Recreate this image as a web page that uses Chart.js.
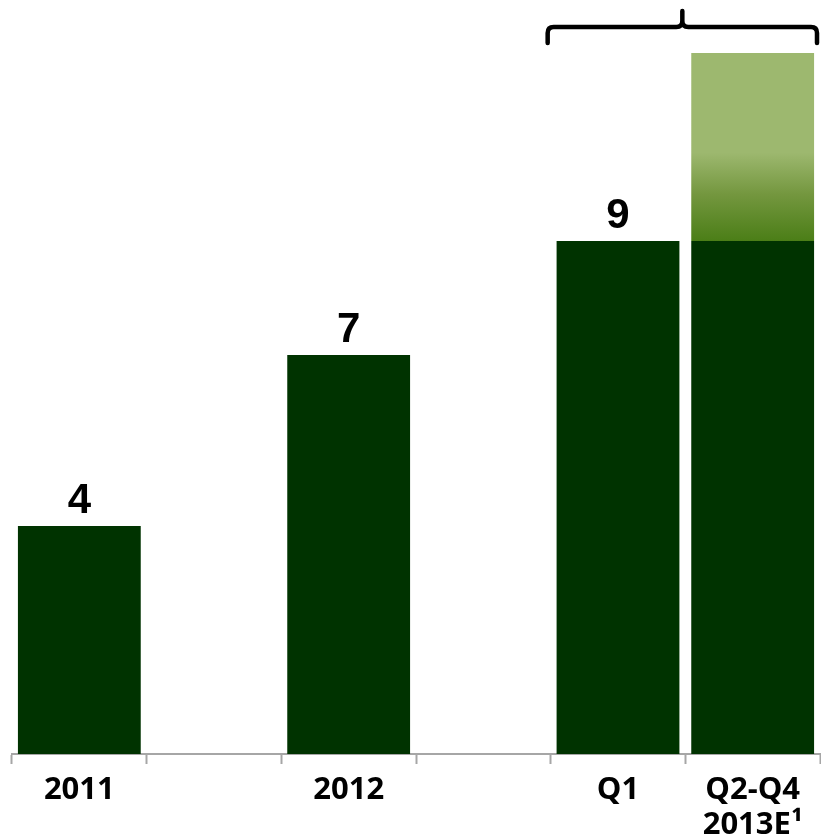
<!DOCTYPE html>
<html>
<head>
<meta charset="utf-8">
<script src="https://cdn.jsdelivr.net/npm/chart.js@4"></script>
<style>
html,body{margin:0;padding:0;background:#fff;}
#wrap{width:821px;height:839px;}
</style>
</head>
<body>
<div id="wrap"><canvas id="c" width="821" height="839"></canvas></div>
<script>
const categories = ['2011', '', '2012', '', 'Q1', ['Q2-Q4', '2013E\u00B9']];
const actualValues = [4, null, 7, null, 9, 9];
const estimateValues = [null, null, null, null, null, 3.3];
const valueLabels = ['4', '', '7', '', '9', ''];

const darkGreen = '#003300';
const lightGreen = '#9DB86F';
const midGreen = '#4B7E17';

const valueLabelPlugin = {
  id: 'valueLabels',
  afterDatasetsDraw(chart) {
    const ctx = chart.ctx;
    const meta = chart.getDatasetMeta(0);
    ctx.save();
    ctx.fillStyle = '#000';
    ctx.font = 'bold 42px "Liberation Sans", Arial, sans-serif';
    ctx.textAlign = 'center';
    ctx.textBaseline = 'alphabetic';
    meta.data.forEach((bar, i) => {
      if (!valueLabels[i]) return;
      ctx.fillText(valueLabels[i], bar.x, bar.y - 13);
    });
    ctx.restore();
  }
};

const bracePlugin = {
  id: 'brace',
  afterDraw(chart) {
    const ctx = chart.ctx;
    const x = chart.scales.x;
    const left = x.getPixelForValue(4) - x.width / categories.length / 2 - 3;
    const right = x.getPixelForValue(5) + x.width / categories.length / 2 - 3;
    const mid = (left + right) / 2;
    const yLine = 27;
    const yEnd = 43;
    const yTip = 11;
    const r = 6;
    ctx.save();
    ctx.strokeStyle = '#000';
    ctx.lineWidth = 4.5;
    ctx.lineCap = 'round';
    ctx.lineJoin = 'round';
    ctx.beginPath();
    ctx.moveTo(left, yEnd);
    ctx.lineTo(left, yLine + r);
    ctx.quadraticCurveTo(left, yLine, left + r, yLine);
    ctx.lineTo(mid - r, yLine);
    ctx.quadraticCurveTo(mid, yLine, mid, yLine - r);
    ctx.lineTo(mid, yTip);
    ctx.moveTo(mid, yLine - r);
    ctx.quadraticCurveTo(mid, yLine, mid + r, yLine);
    ctx.lineTo(right - r, yLine);
    ctx.quadraticCurveTo(right, yLine, right, yLine + r);
    ctx.lineTo(right, yEnd);
    ctx.stroke();
    ctx.restore();
  }
};

new Chart(document.getElementById('c'), {
  type: 'bar',
  data: {
    labels: categories,
    datasets: [
      {
        data: actualValues,
        backgroundColor: darkGreen,
        categoryPercentage: 1,
        barPercentage: 0.912,
        stack: 's'
      },
      {
        data: estimateValues,
        backgroundColor(context) {
          const chart = context.chart;
          const ys = chart.scales.y;
          if (!ys || !chart.chartArea) return lightGreen;
          const top = ys.getPixelForValue(12.3);
          const bot = ys.getPixelForValue(9);
          if (!isFinite(top) || !isFinite(bot) || top === bot) return lightGreen;
          const g = chart.ctx.createLinearGradient(0, top, 0, bot);
          g.addColorStop(0, lightGreen);
          g.addColorStop(0.53, lightGreen);
          g.addColorStop(0.75, '#74973F');
          g.addColorStop(1, midGreen);
          return g;
        },
        categoryPercentage: 1,
        barPercentage: 0.912,
        stack: 's'
      }
    ]
  },
  options: {
    responsive: false,
    animation: false,
    devicePixelRatio: 1,
    layout: { padding: { left: 12, right: 1, top: 0, bottom: 0 } },
    plugins: { legend: { display: false }, tooltip: { enabled: false } },
    scales: {
      x: {
        stacked: true,
        offset: true,
        afterFit(scale) { scale.height = 85; },
        border: { display: true, color: '#A6A6A6', width: 2 },
        grid: {
          display: true,
          offset: true,
          drawOnChartArea: false,
          drawTicks: true,
          tickLength: 10,
          tickWidth: 2,
          color: '#A6A6A6'
        },
        ticks: {
          color: '#000',
          font: { family: '"Open Sans", sans-serif', weight: 'bold', size: 31, lineHeight: 1.12 },
          padding: 9,
          maxRotation: 0,
          autoSkip: false
        }
      },
      y: {
        stacked: true,
        display: false,
        min: 0,
        max: 13.23
      }
    }
  },
  plugins: [valueLabelPlugin, bracePlugin]
});
</script>
</body>
</html>
